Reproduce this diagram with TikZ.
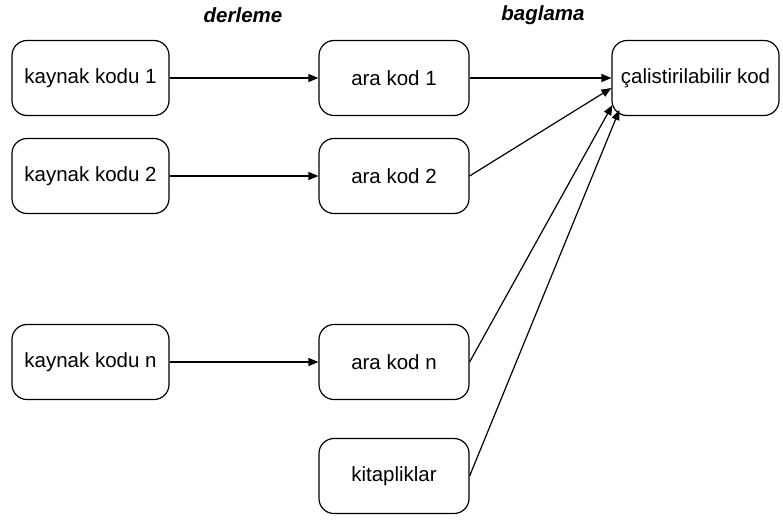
\documentclass[tikz,border=0pt]{standalone}
\usepackage{fontspec}
\setmainfont{Liberation Sans}
\usetikzlibrary{arrows.meta}
\begin{document}
\begin{tikzpicture}[x=1pt,y=-1pt,
  box/.style={draw,line width=1.2pt,rounded corners=15pt,inner sep=0pt,
    minimum height=75pt,font=\fontsize{20.5}{24}\selectfont},
  srcbox/.style={box,minimum width=157pt},
  midbox/.style={box,minimum width=150pt},
  phase/.style={font=\fontsize{20.5}{24}\selectfont\bfseries\itshape},
  link/.style={line width=1.2pt,-{Triangle[length=10pt,width=8pt]}}]
\useasboundingbox (0,0) rectangle (783,519);

% phase labels
\node[phase] (lblc) at (243,15) {derleme};
\node[phase] (lbll) at (543,15) {baglama};

% source files
\node[srcbox] (k1) at (90.5,78) {kaynak kodu 1};
\node[srcbox] (k2) at (90.5,176) {kaynak kodu 2};
\node[srcbox] (kn) at (90.5,362) {kaynak kodu n};

% object files and libraries
\node[midbox] (a1) at (394,78) {ara kod 1};
\node[midbox] (a2) at (394,176) {ara kod 2};
\node[midbox] (an) at (394,362) {ara kod n};
\node[midbox] (lib) at (394,476) {kitapliklar};

% linked program
\node[box,minimum width=167pt] (exe) at (695.5,78) {çalistirilabilir kod};

% compilation
\draw[link] (k1) -- (a1);
\draw[link] (k2) -- (a2);
\draw[link] (kn) -- (an);

% linking
\draw[link] (a1.east) -- (exe.west);
\draw[link] (a2.east) -- ([yshift=-10pt]exe.west);
\draw[link] (an.east) -- ([xshift=1pt,yshift=-27pt]exe.west);
\draw[link] (lib.east) -- ([xshift=8pt,yshift=-32pt]exe.west);
\end{tikzpicture}
\end{document}
